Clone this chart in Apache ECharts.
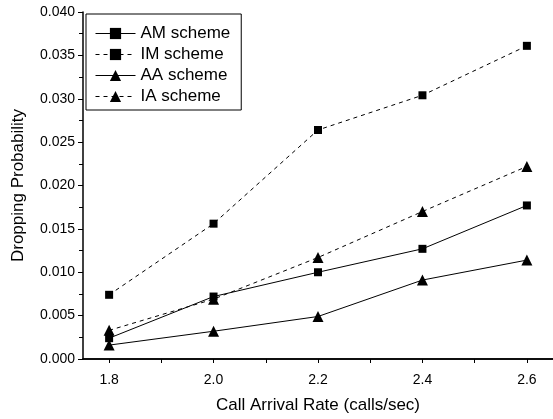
<!DOCTYPE html>
<html>
<head>
<meta charset="utf-8">
<script src="https://cdn.jsdelivr.net/npm/echarts@6/dist/echarts.min.js"></script>
<style>
  html, body { margin: 0; padding: 0; background: #fff; }
  #chart { width: 553px; height: 419px; }
</style>
</head>
<body>
<div id="chart"></div>
<script>
// 数据
const arrivalRates = [1.8, 2.0, 2.2, 2.4, 2.6];
const amScheme = [0.0024, 0.0072, 0.0100, 0.0127, 0.0177];
const imScheme = [0.0074, 0.0156, 0.0264, 0.0304, 0.0361];
const aaScheme = [0.0016, 0.0032, 0.0049, 0.0091, 0.0114];
const iaScheme = [0.0033, 0.0069, 0.0117, 0.0170, 0.0222];
const xTickValues = [1.8, 1.9, 2.0, 2.1, 2.2, 2.3, 2.4, 2.5, 2.6];
const xLabelValues = [1.8, 2.0, 2.2, 2.4, 2.6];

const font = '"Liberation Sans", Arial, sans-serif';

function toPairs(values) {
    return arrivalRates.map((x, i) => [x, values[i]]);
}

function makeSeries(name, values, symbol, dashed) {
    return {
        name: name,
        type: 'line',
        data: toPairs(values),
        symbol: symbol,
        symbolSize: symbol === 'rect' ? 8 : 11,
        itemStyle: { color: '#000' },
        lineStyle: {
            color: '#000',
            width: 1,
            type: dashed ? [4, 4] : 'solid'
        },
        animation: false
    };
}

document.addEventListener('DOMContentLoaded', function() {
    const chart = echarts.init(document.getElementById('chart'));

    const option = {
        backgroundColor: '#fff',
        grid: {
            left: 83,
            right: -7,
            top: 12,
            bottom: 56
        },
        legend: {
            left: 86,
            top: 14,
            orient: 'vertical',
            itemWidth: 40,
            itemHeight: 14,
            itemGap: 4,
            padding: [11, 11, 5, 9],
            borderColor: '#000',
            borderWidth: 1,
            lineStyle: { width: 1 },
            textStyle: { fontFamily: font, fontSize: 17, color: '#000' },
            data: ['AM scheme', 'IM scheme', 'AA scheme', 'IA scheme']
        },
        xAxis: [{
            type: 'value',
            min: 1.75,
            max: 2.65,
            name: 'Call Arrival Rate (calls/sec)',
            nameLocation: 'middle',
            nameGap: 38,
            nameTextStyle: { fontFamily: font, fontSize: 17, color: '#000' },
            axisLine: { onZero: false, lineStyle: { color: '#000', width: 1.5 } },
            axisTick: { customValues: xTickValues, length: 4, lineStyle: { color: '#000' } },
            axisLabel: {
                customValues: xLabelValues,
                fontFamily: font, fontSize: 14, color: '#000', margin: 14,
                formatter: v => v.toFixed(1)
            },
            splitLine: { show: false }
        }, {
            type: 'value',
            position: 'top',
            min: 1.75,
            max: 2.65,
            axisLine: { show: true, lineStyle: { color: '#000', width: 1.5 } },
            axisTick: { show: false },
            axisLabel: { show: false },
            splitLine: { show: false }
        }],
        yAxis: {
            type: 'value',
            min: 0,
            max: 0.04,
            interval: 0.005,
            name: 'Dropping Probability',
            nameLocation: 'middle',
            nameGap: 56,
            nameTextStyle: { fontFamily: font, fontSize: 17, color: '#000' },
            axisLine: { show: true, lineStyle: { color: '#000', width: 1.5 } },
            axisTick: { show: true, length: 5, lineStyle: { color: '#000' } },
            minorTick: { show: true, splitNumber: 2, length: 4, lineStyle: { color: '#000' } },
            axisLabel: {
                fontFamily: font, fontSize: 14, color: '#000', margin: 8,
                formatter: v => v.toFixed(3)
            },
            splitLine: { show: false }
        },
        series: [
            makeSeries('AM scheme', amScheme, 'rect', false),
            makeSeries('IM scheme', imScheme, 'rect', true),
            makeSeries('AA scheme', aaScheme, 'triangle', false),
            makeSeries('IA scheme', iaScheme, 'triangle', true)
        ]
    };

    chart.setOption(option);
});
</script>
</body>
</html>
